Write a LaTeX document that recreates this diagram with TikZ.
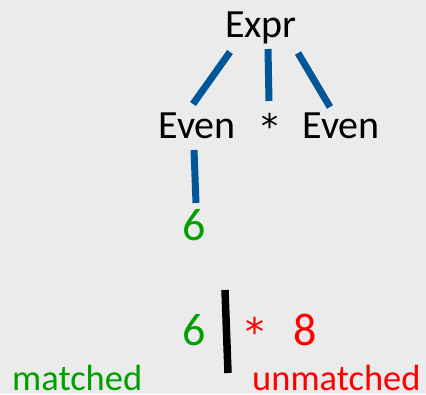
\documentclass[tikz,border=0pt]{standalone}
\usepackage{fontspec}
\setmainfont{Carlito}
\newfontfamily\astfont{DejaVu Sans}
\definecolor{bg}{RGB}{235,235,235}
\definecolor{treeblue}{RGB}{0,86,150}
\definecolor{mgreen}{RGB}{0,160,0}
\definecolor{ured}{RGB}{255,0,0}
\begin{document}
\begin{tikzpicture}[x=1pt,y=-1pt,
  lbl/.style={inner sep=0pt, anchor=base, font=\fontsize{40}{48}\selectfont},
  dig/.style={inner sep=0pt, anchor=base, font=\fontsize{46}{54}\selectfont},
  ast/.style={inner sep=0pt, anchor=base, font=\astfont\fontsize{34}{40}\selectfont},
  word/.style={inner sep=0pt, anchor=base west, font=\fontsize{36.5}{43}\selectfont},
  edge/.style={draw=treeblue, line width=7pt},
  cursor/.style={draw=black, line width=7.5pt}]
\fill[bg] (0,0) rectangle (426,394);
\useasboundingbox (0,0) rectangle (426,394);
\node[lbl] (expr) at (261,37) {Expr};
\node[lbl] (evenL) at (197,138) {Even};
\node[ast] (star) at (270,138) {*};
\node[lbl] (evenR) at (341,138) {Even};
\node[dig, text=mgreen] (six) at (194.5,240.5) {6};
\node[dig, text=mgreen] (six2) at (194.5,345) {6};
\node[ast, text=ured, font=\astfont\fontsize{38}{44}\selectfont] (star2) at (255,345) {*};
\node[dig, text=ured] (eight) at (305,345) {8};
\node[word, text=mgreen] (matched) at (12,390) {matched};
\node[word, text=ured] (unmatched) at (252,390) {unmatched};
\coordinate (e1a) at (230,52); \coordinate (e1b) at (193,104);
\coordinate (e2a) at (268,49); \coordinate (e2b) at (269,101);
\coordinate (e3a) at (298,53); \coordinate (e3b) at (330,107);
\coordinate (e4a) at (194,150); \coordinate (e4b) at (196,203);
\coordinate (bart) at (225,290); \coordinate (barb) at (228,373);
\draw[edge] (e1a) -- (e1b);
\draw[edge] (e2a) -- (e2b);
\draw[edge] (e3a) -- (e3b);
\draw[edge] (e4a) -- (e4b);
\draw[cursor] (bart) -- (barb);
\end{tikzpicture}
\end{document}
